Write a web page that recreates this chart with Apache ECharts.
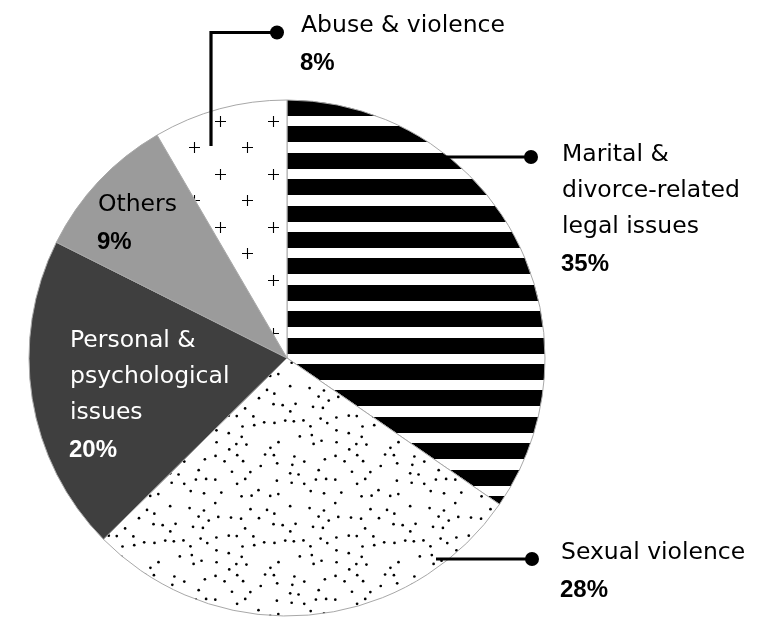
<!DOCTYPE html>
<html>
<head>
<meta charset="utf-8">
<script src="https://cdn.jsdelivr.net/npm/echarts@6/dist/echarts.min.js"></script>
<style>
html,body{margin:0;padding:0;background:#fff;}
#chart{position:absolute;left:0;top:0;width:759px;height:617px;}
</style>
</head>
<body>
<div id="chart"></div>
<script>
// ---- data ----
var categories = ['Marital & divorce-related legal issues', 'Sexual violence', 'Personal & psychological issues', 'Others', 'Abuse & violence'];
var values = [34.6, 28.0, 19.8, 9.2, 8.4];
var labelLines = [['Marital &', 'divorce-related', 'legal issues'], ['Sexual violence'], ['Personal &', 'psychological', 'issues'], ['Others'], ['Abuse & violence']];

// ---- styling / layout ----
var FONT = '"DejaVu Sans", sans-serif';
var BFONT = '"Liberation Sans", Arial, sans-serif';
var FS = 23.5;
var LH = 36;
var CX = 287, CY = 358, R = 258;

function stripePattern() {
  var c = document.createElement('canvas');
  c.width = 10; c.height = 132;
  var g = c.getContext('2d');
  g.fillStyle = '#fff'; g.fillRect(0, 0, 10, 132);
  g.fillStyle = '#000';
  [[0, 10], [21, 37], [47, 63], [74, 90], [100, 116], [126, 132]].forEach(function (s) {
    g.fillRect(0, s[0], 10, s[1] - s[0]);
  });
  return c;
}
function plusPattern() {
  var c = document.createElement('canvas');
  c.width = 53; c.height = 53;
  var g = c.getContext('2d');
  g.fillStyle = '#fff'; g.fillRect(0, 0, 53, 53);
  g.strokeStyle = '#000'; g.lineWidth = 1.1;
  [[8, 15], [35, 41]].forEach(function (p) {
    g.beginPath();
    g.moveTo(p[0] - 5, p[1] + 0.5); g.lineTo(p[0] + 6, p[1] + 0.5);
    g.moveTo(p[0] + 0.5, p[1] - 5); g.lineTo(p[0] + 0.5, p[1] + 6);
    g.stroke();
  });
  return c;
}
function dotPattern() {
  var S = 120;
  var c = document.createElement('canvas');
  c.width = S; c.height = S;
  var g = c.getContext('2d');
  g.fillStyle = '#fff'; g.fillRect(0, 0, S, S);
  g.fillStyle = '#000';
  var seed = 12345;
  function rnd() { seed = (seed * 1103515245 + 12345) % 2147483648; return seed / 2147483648; }
  var pts = [];
  var tries = 0;
  while (pts.length < 80 && tries < 20000) {
    tries++;
    var x = rnd() * S, y = rnd() * S, ok = true;
    for (var i = 0; i < pts.length; i++) {
      var dx = Math.abs(pts[i][0] - x), dy = Math.abs(pts[i][1] - y);
      dx = Math.min(dx, S - dx); dy = Math.min(dy, S - dy);
      if (dx * dx + dy * dy < 64) { ok = false; break; }
    }
    if (ok) pts.push([x, y]);
  }
  pts.forEach(function (p) {
    for (var ox = -S; ox <= S; ox += S) for (var oy = -S; oy <= S; oy += S) {
      g.beginPath(); g.arc(p[0] + ox, p[1] + oy, 1.35, 0, Math.PI * 2); g.fill();
    }
  });
  return c;
}

var fills = [
  { image: stripePattern(), repeat: 'repeat' },
  { image: dotPattern(), repeat: 'repeat' },
  '#3f3f3f',
  '#9b9b9b',
  { image: plusPattern(), repeat: 'repeat' }
];

// label layout: [x, y of first line (middle), color]
var labelPos = [
  [562, 155, '#000'],
  [561, 553, '#000'],
  [70, 341, '#fff'],
  [98, 205, '#000'],
  [301, 26, '#000']
];

var graphics = [];
labelLines.forEach(function (lines, i) {
  var p = labelPos[i];
  lines.forEach(function (t, j) {
    graphics.push({ type: 'text', x: p[0], y: p[1] + j * LH, z: 100,
      style: { text: t, fill: p[2], font: FS + 'px ' + FONT, textAlign: 'left', textVerticalAlign: 'middle' } });
  });
  graphics.push({ type: 'text', x: p[0] - 1, y: p[1] + lines.length * LH + 1, z: 100,
    style: { text: Math.round(values[i]) + '%', fill: p[2], font: 'bold 24px ' + BFONT, textAlign: 'left', textVerticalAlign: 'middle' } });
});

// leader lines with end dots
var leaders = [
  { pts: [[430, 157], [531, 157]], dot: [531, 157] },
  { pts: [[436, 559], [532, 559]], dot: [532, 559] },
  { pts: [[211, 146], [211, 32.5], [277, 32.5]], dot: [277, 32.5] }
];
leaders.forEach(function (l) {
  graphics.push({ type: 'polyline', z: 90, shape: { points: l.pts }, style: { stroke: '#000', lineWidth: 3.2, fill: null } });
  graphics.push({ type: 'circle', z: 91, shape: { cx: l.dot[0], cy: l.dot[1], r: 7 }, style: { fill: '#000' } });
});

var chart = echarts.init(document.getElementById('chart'), null, { renderer: 'canvas' });
chart.setOption({
  animation: false,
  backgroundColor: '#fff',
  series: [{
    type: 'pie',
    center: [CX, CY],
    radius: R,
    startAngle: 90,
    clockwise: true,
    avoidLabelOverlap: false,
    label: { show: false },
    labelLine: { show: false },
    emphasis: { disabled: true },
    silent: true,
    data: categories.map(function (c, i) {
      return { name: c, value: values[i], itemStyle: { color: fills[i], borderColor: '#a8a8a8', borderWidth: 1 } };
    })
  }],
  graphic: graphics
});
</script>
</body>
</html>
